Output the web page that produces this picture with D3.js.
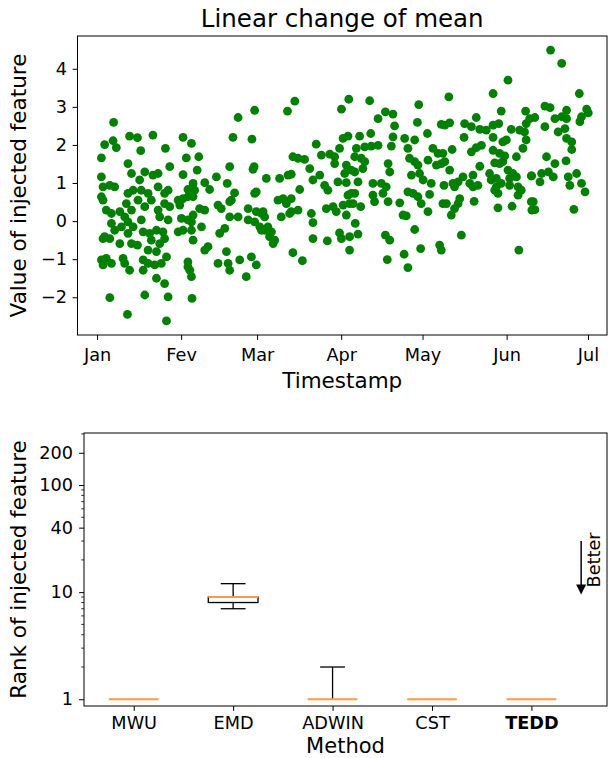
<html>
<script src="https://d3js.org/d3.v7.min.js"></script>
<style>
  body { margin: 0; background: #fff; }
  svg text { font-family: "DejaVu Sans", sans-serif; fill: #000; }
</style>
<body>
<svg id="chart" width="608" height="758"></svg>
<script>
// ---- data: top scatter (day offset from Jan 1, injected value) ----
var monthLabels = ["Jan", "Fev", "Mar", "Apr", "May", "Jun", "Jul"];
var valueTicks = [-2, -1, 0, 1, 2, 3, 4];

var janPoints = [[6.1,2.59],[2.8,2.01],[5.9,2.11],[7.1,1.93],[12.0,2.23],[14.9,2.19],[20.6,2.26],[1.6,1.66],[16.1,1.85],[25.2,1.91],
  [11.4,1.51],[12.7,1.25],[17.6,1.29],[20.6,1.21],[22.5,1.25],[26.8,1.43],[1.6,1.16],[2.2,0.90],[4.7,0.94],[6.5,0.90],
  [1.6,0.64],[2.2,0.55],[11.4,0.73],[13.3,0.81],[15.7,1.08],[16.3,0.81],[18.8,0.73],[22.5,0.90],[24.9,0.73],[26.2,0.81],
  [10.8,0.46],[12.7,0.29],[15.1,0.55],[17.6,0.38],[20.0,0.55],[22.5,0.29],[24.9,0.46],[26.8,0.38],[3.4,0.29],[5.3,0.20],
  [8.4,0.25],[10.2,0.11],[11.4,-0.02],[13.3,-0.15],[16.3,0.03],[23.1,0.11],[26.2,0.03],[5.3,-0.06],[6.5,-0.24],[9.0,-0.15],
  [11.4,-0.32],[2.8,-0.41],[2.2,-0.46],[4.7,-0.46],[17.0,-0.28],[19.4,-0.32],[21.9,-0.24],[24.3,-0.28],[8.4,-0.59],[12.7,-0.59],
  [14.9,-0.63],[20.0,-0.50],[23.1,-0.59],[24.9,-0.46],[18.8,-0.76],[21.9,-0.80],[25.6,-0.94],[1.6,-1.02],[3.4,-0.98],[5.3,-1.11],
  [2.2,-1.15],[9.6,-0.98],[10.2,-1.11],[12.0,-1.29],[17.0,-1.02],[18.8,-1.11],[21.3,-1.15],[23.7,-1.11],[17.0,-1.29],[21.9,-1.50],
  [24.9,-1.64],[4.7,-2.01],[17.6,-1.94],[26.2,-1.99],[11.2,-2.45],[25.6,-2.62]];

var febPoints = [[58.1,2.91],[52.0,2.72],[31.7,2.20],[34.8,2.04],[50.1,2.20],[57.1,2.15],[32.9,1.66],[37.5,1.69],[31.7,1.22],[36.9,1.34],
  [48.9,1.43],[57.9,1.43],[57.5,1.36],[44.0,1.16],[48.0,0.99],[35.4,0.99],[33.5,0.83],[36.0,0.81],[39.7,1.01],[41.5,0.83],
  [50.7,0.74],[49.5,0.55],[48.9,0.51],[58.7,0.77],[58.1,0.73],[29.9,0.55],[31.7,0.59],[30.5,0.42],[33.5,0.64],[35.4,0.64],
  [44.6,0.42],[45.8,0.33],[37.8,0.33],[39.7,0.29],[55.7,0.33],[58.7,0.25],[60.6,0.20],[31.1,0.07],[33.5,0.03],[35.4,0.16],
  [34.8,-0.02],[48.9,0.11],[52.0,0.11],[55.7,0.03],[58.1,-0.02],[29.9,-0.28],[31.7,-0.24],[34.8,-0.24],[38.5,-0.15],[47.1,-0.19],
  [45.2,-0.32],[60.0,-0.15],[60.6,-0.24],[35.4,-0.50],[40.9,-0.67],[39.7,-0.76],[33.5,-1.07],[33.5,-1.20],[34.2,-1.29],[34.8,-1.46],
  [44.6,-1.11],[47.7,-0.80],[48.3,-1.11],[48.9,-1.29],[52.6,-1.02],[56.9,-0.94],[58.7,-1.15],[55.0,-1.46],[35.0,-2.03]];

var marPoints = [[72.9,3.15],[70.2,2.89],[92.8,3.20],[90.1,2.94],[80.8,2.02],[90.7,2.17],[92.5,2.23],[72.2,1.69],[74.1,1.65],[76.5,1.62],
  [82.7,1.73],[85.8,1.76],[87.6,1.69],[89.4,1.91],[87.6,1.51],[91.9,1.47],[91.3,1.25],[78.4,1.38],[79.6,1.08],[82.1,1.21],
  [93.7,1.34],[62.4,1.12],[67.3,1.12],[70.4,1.21],[71.6,1.23],[83.9,0.94],[85.1,0.81],[88.8,1.03],[91.9,1.01],[74.7,0.83],
  [66.7,0.55],[68.6,0.59],[71.6,0.59],[69.8,0.46],[67.9,0.11],[71.6,0.25],[74.1,0.29],[71.0,0.20],[79.0,0.20],[79.6,-0.04],
  [84.5,0.33],[87.0,0.38],[88.2,0.25],[90.7,0.42],[91.9,0.16],[93.1,0.46],[92.5,0.68],[93.7,0.73],[61.2,0.25],[61.8,0.11],
  [63.0,-0.15],[64.3,-0.28],[63.6,-0.41],[65.5,-0.50],[64.9,-0.59],[61.8,-0.24],[79.6,-0.46],[84.9,-0.52],[89.4,-0.31],[90.1,-0.46],
  [93.1,-0.41],[72.2,-0.83],[75.7,-1.04],[93.1,-0.76]];

var aprPoints = [[100.5,3.16],[118.6,3.06],[103.6,2.69],[106.3,2.87],[109.1,2.81],[118.1,2.59],[109.7,2.50],[126.9,2.54],[121.8,2.30],[96.8,2.23],
  [100.9,2.30],[109.1,2.21],[113.4,2.17],[117.1,2.13],[95.6,1.91],[98.7,1.95],[101.1,1.97],[103.6,1.99],[108.5,1.97],[114.6,1.91],
  [123.8,1.91],[125.7,1.78],[97.4,1.65],[98.7,1.56],[95.0,1.69],[107.3,1.51],[107.9,1.29],[115.2,1.65],[117.1,1.56],[118.3,1.47],
  [122.0,1.60],[125.1,1.47],[126.9,1.51],[95.0,1.29],[98.0,1.38],[115.9,1.21],[118.9,1.25],[120.2,1.08],[123.2,0.99],[96.2,1.03],
  [101.7,0.99],[104.8,0.99],[106.6,0.90],[114.6,0.77],[116.5,0.73],[118.3,0.64],[122.6,0.70],[101.7,0.68],[102.3,0.51],[105.4,0.73],
  [107.3,0.51],[95.0,0.73],[94.4,0.46],[97.2,0.38],[111.6,0.48],[119.5,0.46],[122.0,0.25],[127.5,0.46],[112.8,0.16],[114.0,0.14],
  [95.2,-0.06],[96.2,-0.34],[117.1,-0.22],[106.3,-0.37],[107.9,-0.50],[126.3,-0.63],[126.9,-0.76],[119.3,-0.72],[113.2,-0.87],[107.0,-1.01],
  [114.6,-1.22]];

var mayPoints = [[151.5,3.70],[129.7,3.26],[146.0,3.35],[149.0,2.89],[158.0,2.89],[139.8,2.72],[128.2,2.52],[130.0,2.58],[135.5,2.56],[138.0,2.48],
  [141.1,2.41],[143.5,2.39],[146.0,2.52],[148.1,2.56],[152.7,2.41],[155.8,2.39],[158.2,2.56],[159.5,2.69],[135.3,2.20],[146.0,2.20],
  [149.6,2.08],[150.9,2.13],[157.6,2.34],[158.2,2.13],[157.0,1.91],[141.7,1.99],[139.8,1.93],[138.0,1.82],[130.9,1.88],[127.5,1.78],
  [146.0,1.86],[148.4,1.78],[150.3,1.71],[154.6,1.69],[128.2,1.56],[130.0,1.34],[141.1,1.44],[138.6,1.21],[137.4,0.99],[146.6,1.53],
  [148.4,1.51],[149.6,1.56],[144.7,1.25],[145.3,1.08],[147.2,1.12],[151.5,1.34],[153.3,1.25],[154.6,1.16],[152.1,1.12],[134.9,1.16],
  [133.1,1.03],[131.2,0.99],[131.8,0.90],[127.9,0.94],[140.4,0.94],[138.6,0.90],[147.2,0.90],[147.8,0.73],[149.0,0.99],[146.6,0.81],
  [152.1,0.94],[155.2,0.90],[156.4,0.81],[155.2,0.68],[160.1,1.19],[128.8,0.46],[133.7,0.59],[133.1,0.46],[131.8,0.33],[130.6,0.16],
  [139.0,0.52],[147.8,0.35],[153.0,0.39],[160.1,0.51],[160.3,0.29],[134.3,-0.37],[155.5,-0.76]];

var junPoints = [[167.2,4.49],[171.3,4.14],[177.8,3.35],[165.1,3.02],[167.0,2.98],[180.5,2.94],[181.1,2.84],[178.6,2.74],[178.0,2.61],[161.4,2.72],
  [168.8,2.69],[171.3,2.74],[173.1,2.91],[173.1,2.69],[165.1,2.48],[170.0,2.34],[172.5,2.43],[173.1,2.17],[175.0,2.08],[175.0,1.88],
  [165.7,1.69],[168.8,1.51],[172.9,1.58],[160.2,1.19],[163.3,1.03],[163.9,1.25],[166.4,1.29],[168.2,1.16],[173.7,1.16],[174.3,0.94],
  [176.8,1.25],[178.6,0.99],[179.9,0.77],[160.8,0.51],[161.4,0.30],[175.8,0.31]];

// ---- data: bottom boxplot ----
var methods = ["MWU", "EMD", "ADWIN", "CST", "TEDD"];
var whiskerLow = [1, 7, 1, 1, 1];
var q1 = [1, 8, 1, 1, 1];
var medians = [1, 9, 1, 1, 1];
var q3 = [1, 9, 1, 1, 1];
var whiskerHigh = [1, 12, 2, 1, 1];
var rankTicks = [1, 10, 40, 100, 200];
var rankMinorTicks = [2, 3, 4, 5, 6, 7, 8, 9, 20, 30, 50, 60, 70, 80, 90, 300];

var svg = d3.select("#chart");
var tickFont = 17.7, labelFont = 21.5;

// ================= top: scatter =================
var T = {left: 77.5, right: 607, top: 36, bottom: 335};
var start = Date.UTC(2021, 0, 1);
function dayToDate(d) { return new Date(start + d * 864e5); }

var xTime = d3.scaleUtc()
  .domain([new Date(Date.UTC(2020, 11, 24, 19)), new Date(Date.UTC(2021, 6, 8))])
  .range([T.left, T.right]);
var yVal = d3.scaleLinear().domain([-2.99, 4.86]).range([T.bottom, T.top]);

var allPoints = [].concat(janPoints, febPoints, marPoints, aprPoints, mayPoints, junPoints);

svg.append("g").selectAll("circle")
  .data(allPoints)
  .join("circle")
  .attr("cx", function(d) { return xTime(dayToDate(d[0])); })
  .attr("cy", function(d) { return yVal(d[1]); })
  .attr("r", 4.4)
  .attr("fill", "green");

var xAxisTop = d3.axisBottom(xTime)
  .ticks(d3.utcMonth.every(1))
  .tickFormat(function(d) { return monthLabels[d.getUTCMonth()]; })
  .tickSize(4.9).tickSizeOuter(0).tickPadding(8.6);
svg.append("g")
  .attr("transform", "translate(0," + T.bottom + ")")
  .call(xAxisTop)
  .attr("font-size", tickFont).attr("font-family", "DejaVu Sans")
  .call(function(g) { g.select(".domain").remove(); });

var yAxisTop = d3.axisLeft(yVal)
  .tickValues(valueTicks)
  .tickFormat(function(d) { return d < 0 ? "\u2212" + Math.abs(d) : d; })
  .tickSize(4.9).tickSizeOuter(0).tickPadding(5.5);
svg.append("g")
  .attr("transform", "translate(" + T.left + ",0)")
  .call(yAxisTop)
  .attr("font-size", tickFont).attr("font-family", "DejaVu Sans")
  .call(function(g) { g.select(".domain").remove(); });

svg.append("rect")
  .attr("x", T.left).attr("y", T.top)
  .attr("width", T.right - T.left).attr("height", T.bottom - T.top)
  .attr("fill", "none").attr("stroke", "#000").attr("stroke-width", 1);

svg.append("text")
  .attr("x", (T.left + T.right) / 2).attr("y", 27)
  .attr("text-anchor", "middle").style("font-size", "24.5px")
  .text("Linear change of mean");
svg.append("text")
  .attr("x", (T.left + T.right) / 2).attr("y", 388)
  .attr("text-anchor", "middle").style("font-size", labelFont + "px")
  .text("Timestamp");
svg.append("text")
  .attr("transform", "translate(26," + (T.top + T.bottom) / 2 + ") rotate(-90)")
  .attr("text-anchor", "middle").style("font-size", labelFont + "px")
  .text("Value of injected feature");

// ================= bottom: boxplot =================
var B = {left: 84, right: 607, top: 433, bottom: 706};
var xM = d3.scaleLinear().domain([0.5, 5.76]).range([B.left, B.right]);
var yR = d3.scaleLog().domain([0.865, 306]).range([B.bottom, B.top]);

var xAxisB = d3.axisBottom(xM)
  .tickValues([1, 2, 3, 4, 5])
  .tickFormat(function(d) { return methods[d - 1]; })
  .tickSize(4.9).tickSizeOuter(0).tickPadding(5.3);
svg.append("g")
  .attr("transform", "translate(0," + B.bottom + ")")
  .call(xAxisB)
  .attr("font-size", tickFont).attr("font-family", "DejaVu Sans")
  .call(function(g) { g.select(".domain").remove(); })
  .selectAll(".tick text")
  .style("font-weight", function(d) { return methods[d - 1] == "TEDD" ? "bold" : "normal"; });

var yAxisB = d3.axisLeft(yR)
  .tickValues(rankTicks)
  .tickFormat(d3.format("d"))
  .tickSize(4.9).tickSizeOuter(0).tickPadding(6);
svg.append("g")
  .attr("transform", "translate(" + B.left + ",0)")
  .call(yAxisB)
  .attr("font-size", tickFont).attr("font-family", "DejaVu Sans")
  .call(function(g) { g.select(".domain").remove(); });

svg.append("g").selectAll("line")
  .data(rankMinorTicks.filter(function(v) { return v < yR.domain()[1]; }))
  .join("line")
  .attr("x1", B.left - 2.8).attr("x2", B.left)
  .attr("y1", function(d) { return yR(d); }).attr("y2", function(d) { return yR(d); })
  .attr("stroke", "#000").attr("stroke-width", 0.8);

var boxW = 0.5, capW = 0.25;
var boxes = svg.append("g").selectAll("g")
  .data(methods.map(function(m, i) { return i; }))
  .join("g");
// whiskers and caps only where they leave the box
var withUpper = boxes.filter(function(i) { return whiskerHigh[i] > q3[i]; });
withUpper.append("line")
  .attr("x1", function(i) { return xM(i + 1); }).attr("x2", function(i) { return xM(i + 1); })
  .attr("y1", function(i) { return yR(q3[i]); }).attr("y2", function(i) { return yR(whiskerHigh[i]); })
  .attr("stroke", "#000").attr("stroke-width", 1.3);
withUpper.append("line")
  .attr("x1", function(i) { return xM(i + 1 - capW / 2); }).attr("x2", function(i) { return xM(i + 1 + capW / 2); })
  .attr("y1", function(i) { return yR(whiskerHigh[i]); }).attr("y2", function(i) { return yR(whiskerHigh[i]); })
  .attr("stroke", "#000").attr("stroke-width", 1.3);
var withLower = boxes.filter(function(i) { return whiskerLow[i] < q1[i]; });
withLower.append("line")
  .attr("x1", function(i) { return xM(i + 1); }).attr("x2", function(i) { return xM(i + 1); })
  .attr("y1", function(i) { return yR(q1[i]); }).attr("y2", function(i) { return yR(whiskerLow[i]); })
  .attr("stroke", "#000").attr("stroke-width", 1.3);
withLower.append("line")
  .attr("x1", function(i) { return xM(i + 1 - capW / 2); }).attr("x2", function(i) { return xM(i + 1 + capW / 2); })
  .attr("y1", function(i) { return yR(whiskerLow[i]); }).attr("y2", function(i) { return yR(whiskerLow[i]); })
  .attr("stroke", "#000").attr("stroke-width", 1.3);
boxes.filter(function(i) { return q3[i] > q1[i]; }).append("rect")
  .attr("x", function(i) { return xM(i + 1 - boxW / 2); })
  .attr("width", function(i) { return xM(i + 1 + boxW / 2) - xM(i + 1 - boxW / 2); })
  .attr("y", function(i) { return yR(q3[i]); })
  .attr("height", function(i) { return yR(q1[i]) - yR(q3[i]); })
  .attr("fill", "none").attr("stroke", "#000").attr("stroke-width", 1.3);
boxes.append("line")
  .attr("x1", function(i) { return xM(i + 1 - boxW / 2); }).attr("x2", function(i) { return xM(i + 1 + boxW / 2); })
  .attr("y1", function(i) { return yR(medians[i]); }).attr("y2", function(i) { return yR(medians[i]); })
  .attr("stroke", "#ff9a45").attr("stroke-width", 2);

// "Better" arrow
var arrowX = xM(5.5), arrowTop = yR(30), arrowTip = yR(9.5);
svg.append("line")
  .attr("x1", arrowX).attr("x2", arrowX)
  .attr("y1", arrowTop).attr("y2", arrowTip - 8)
  .attr("stroke", "#000").attr("stroke-width", 1.5);
svg.append("path")
  .attr("d", "M" + (arrowX - 5) + "," + (arrowTip - 10) + "L" + (arrowX + 5) + "," + (arrowTip - 10) + "L" + arrowX + "," + arrowTip + "Z")
  .attr("fill", "#000");
svg.append("text")
  .attr("transform", "translate(600," + yR(20) + ") rotate(-90)")
  .attr("text-anchor", "middle").style("font-size", tickFont + "px")
  .text("Better");

svg.append("rect")
  .attr("x", B.left).attr("y", B.top)
  .attr("width", B.right - B.left).attr("height", B.bottom - B.top)
  .attr("fill", "none").attr("stroke", "#000").attr("stroke-width", 1);

svg.append("text")
  .attr("x", (B.left + B.right) / 2).attr("y", 753)
  .attr("text-anchor", "middle").style("font-size", "21px")
  .text("Method");
svg.append("text")
  .attr("transform", "translate(26," + (B.top + B.bottom) / 2 + ") rotate(-90)")
  .attr("text-anchor", "middle").style("font-size", labelFont + "px")
  .text("Rank of injected feature");
</script>
</body>
</html>
